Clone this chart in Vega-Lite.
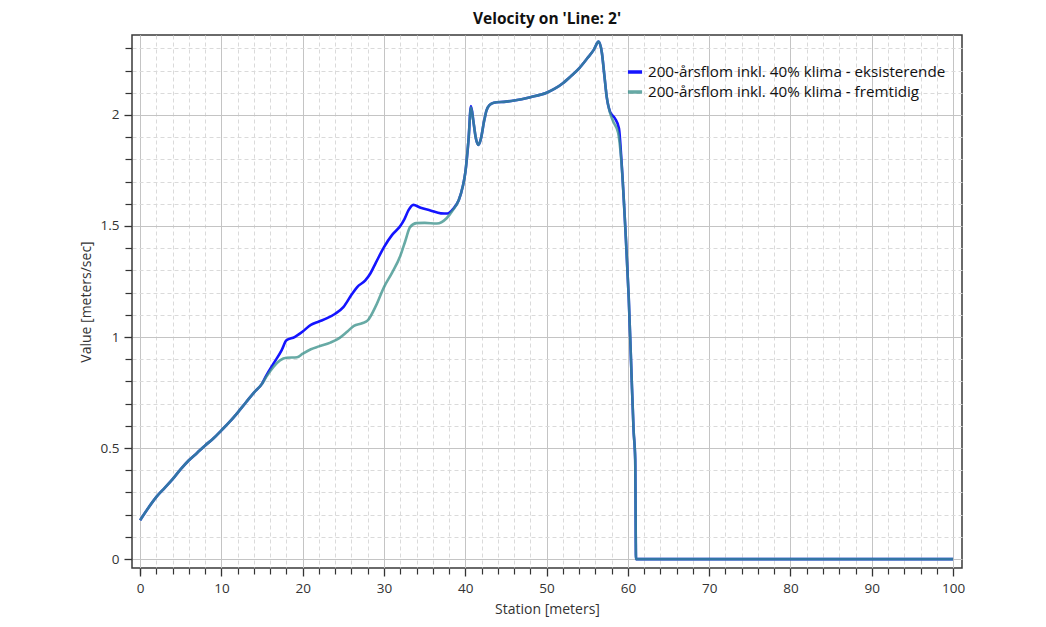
{
  "$schema": "https://vega.github.io/schema/vega-lite/v6.json",
  "width": 830,
  "height": 533,
  "autosize": {"type": "none"},
  "padding": {"left": 132, "top": 35, "right": 84, "bottom": 59},
  "background": "white",
  "title": {"text": "Velocity on 'Line: 2'", "font": "Open Sans", "fontSize": 15.5, "fontWeight": "bold", "color": "#111", "anchor": "middle", "offset": 8},
  "config": {
    "view": {"stroke": "#3a3a3a", "strokeWidth": 1.5},
    "axis": {"labelFont": "Open Sans", "titleFont": "Open Sans", "labelFontSize": 13.5, "titleFontSize": 14, "labelColor": "#333", "titleColor": "#333", "titleFontWeight": "normal", "tickColor": "#333", "domain": false}
  },
  "datasets": {
    "vel": [
      {"station": 0, "value": 0.175, "series": "200-årsflom inkl. 40% klima - eksisterende"},
      {"station": 1, "value": 0.23, "series": "200-årsflom inkl. 40% klima - eksisterende"},
      {"station": 2, "value": 0.28, "series": "200-årsflom inkl. 40% klima - eksisterende"},
      {"station": 3, "value": 0.32, "series": "200-årsflom inkl. 40% klima - eksisterende"},
      {"station": 4, "value": 0.36, "series": "200-årsflom inkl. 40% klima - eksisterende"},
      {"station": 5, "value": 0.405, "series": "200-årsflom inkl. 40% klima - eksisterende"},
      {"station": 6, "value": 0.445, "series": "200-årsflom inkl. 40% klima - eksisterende"},
      {"station": 7, "value": 0.478, "series": "200-årsflom inkl. 40% klima - eksisterende"},
      {"station": 8, "value": 0.512, "series": "200-årsflom inkl. 40% klima - eksisterende"},
      {"station": 9, "value": 0.543, "series": "200-årsflom inkl. 40% klima - eksisterende"},
      {"station": 10, "value": 0.58, "series": "200-årsflom inkl. 40% klima - eksisterende"},
      {"station": 11, "value": 0.618, "series": "200-årsflom inkl. 40% klima - eksisterende"},
      {"station": 12, "value": 0.66, "series": "200-årsflom inkl. 40% klima - eksisterende"},
      {"station": 13, "value": 0.705, "series": "200-årsflom inkl. 40% klima - eksisterende"},
      {"station": 14, "value": 0.75, "series": "200-årsflom inkl. 40% klima - eksisterende"},
      {"station": 15, "value": 0.79, "series": "200-årsflom inkl. 40% klima - eksisterende"},
      {"station": 15.5, "value": 0.825, "series": "200-årsflom inkl. 40% klima - eksisterende"},
      {"station": 16.4, "value": 0.88, "series": "200-årsflom inkl. 40% klima - eksisterende"},
      {"station": 17.4, "value": 0.94, "series": "200-årsflom inkl. 40% klima - eksisterende"},
      {"station": 18, "value": 0.985, "series": "200-årsflom inkl. 40% klima - eksisterende"},
      {"station": 19, "value": 1.0, "series": "200-årsflom inkl. 40% klima - eksisterende"},
      {"station": 20, "value": 1.025, "series": "200-årsflom inkl. 40% klima - eksisterende"},
      {"station": 21, "value": 1.055, "series": "200-årsflom inkl. 40% klima - eksisterende"},
      {"station": 22, "value": 1.07, "series": "200-årsflom inkl. 40% klima - eksisterende"},
      {"station": 23, "value": 1.085, "series": "200-årsflom inkl. 40% klima - eksisterende"},
      {"station": 24, "value": 1.105, "series": "200-årsflom inkl. 40% klima - eksisterende"},
      {"station": 25, "value": 1.135, "series": "200-årsflom inkl. 40% klima - eksisterende"},
      {"station": 26, "value": 1.19, "series": "200-årsflom inkl. 40% klima - eksisterende"},
      {"station": 26.7, "value": 1.225, "series": "200-årsflom inkl. 40% klima - eksisterende"},
      {"station": 27.7, "value": 1.255, "series": "200-årsflom inkl. 40% klima - eksisterende"},
      {"station": 28.3, "value": 1.285, "series": "200-årsflom inkl. 40% klima - eksisterende"},
      {"station": 29, "value": 1.335, "series": "200-årsflom inkl. 40% klima - eksisterende"},
      {"station": 30, "value": 1.405, "series": "200-årsflom inkl. 40% klima - eksisterende"},
      {"station": 31, "value": 1.46, "series": "200-årsflom inkl. 40% klima - eksisterende"},
      {"station": 32, "value": 1.5, "series": "200-årsflom inkl. 40% klima - eksisterende"},
      {"station": 32.5, "value": 1.53, "series": "200-årsflom inkl. 40% klima - eksisterende"},
      {"station": 33, "value": 1.57, "series": "200-årsflom inkl. 40% klima - eksisterende"},
      {"station": 33.6, "value": 1.595, "series": "200-årsflom inkl. 40% klima - eksisterende"},
      {"station": 34.5, "value": 1.582, "series": "200-årsflom inkl. 40% klima - eksisterende"},
      {"station": 35.7, "value": 1.57, "series": "200-årsflom inkl. 40% klima - eksisterende"},
      {"station": 37, "value": 1.557, "series": "200-årsflom inkl. 40% klima - eksisterende"},
      {"station": 37.8, "value": 1.556, "series": "200-årsflom inkl. 40% klima - eksisterende"},
      {"station": 38.5, "value": 1.577, "series": "200-årsflom inkl. 40% klima - eksisterende"},
      {"station": 39.2, "value": 1.617, "series": "200-årsflom inkl. 40% klima - eksisterende"},
      {"station": 39.7, "value": 1.68, "series": "200-årsflom inkl. 40% klima - eksisterende"},
      {"station": 40.0, "value": 1.74, "series": "200-årsflom inkl. 40% klima - eksisterende"},
      {"station": 40.4, "value": 1.89, "series": "200-årsflom inkl. 40% klima - eksisterende"},
      {"station": 40.7, "value": 2.04, "series": "200-årsflom inkl. 40% klima - eksisterende"},
      {"station": 41.0, "value": 1.97, "series": "200-årsflom inkl. 40% klima - eksisterende"},
      {"station": 41.3, "value": 1.895, "series": "200-årsflom inkl. 40% klima - eksisterende"},
      {"station": 41.6, "value": 1.865, "series": "200-årsflom inkl. 40% klima - eksisterende"},
      {"station": 41.9, "value": 1.89, "series": "200-årsflom inkl. 40% klima - eksisterende"},
      {"station": 42.3, "value": 1.97, "series": "200-årsflom inkl. 40% klima - eksisterende"},
      {"station": 42.6, "value": 2.02, "series": "200-årsflom inkl. 40% klima - eksisterende"},
      {"station": 43.0, "value": 2.045, "series": "200-årsflom inkl. 40% klima - eksisterende"},
      {"station": 43.5, "value": 2.055, "series": "200-årsflom inkl. 40% klima - eksisterende"},
      {"station": 45, "value": 2.06, "series": "200-årsflom inkl. 40% klima - eksisterende"},
      {"station": 46, "value": 2.065, "series": "200-årsflom inkl. 40% klima - eksisterende"},
      {"station": 48, "value": 2.08, "series": "200-årsflom inkl. 40% klima - eksisterende"},
      {"station": 50, "value": 2.1, "series": "200-årsflom inkl. 40% klima - eksisterende"},
      {"station": 51, "value": 2.118, "series": "200-årsflom inkl. 40% klima - eksisterende"},
      {"station": 52, "value": 2.143, "series": "200-årsflom inkl. 40% klima - eksisterende"},
      {"station": 53, "value": 2.175, "series": "200-årsflom inkl. 40% klima - eksisterende"},
      {"station": 54, "value": 2.21, "series": "200-årsflom inkl. 40% klima - eksisterende"},
      {"station": 55, "value": 2.255, "series": "200-årsflom inkl. 40% klima - eksisterende"},
      {"station": 55.8, "value": 2.293, "series": "200-årsflom inkl. 40% klima - eksisterende"},
      {"station": 56.4, "value": 2.33, "series": "200-årsflom inkl. 40% klima - eksisterende"},
      {"station": 56.8, "value": 2.28, "series": "200-årsflom inkl. 40% klima - eksisterende"},
      {"station": 57.1, "value": 2.18, "series": "200-årsflom inkl. 40% klima - eksisterende"},
      {"station": 57.4, "value": 2.08, "series": "200-årsflom inkl. 40% klima - eksisterende"},
      {"station": 57.8, "value": 2.015, "series": "200-årsflom inkl. 40% klima - eksisterende"},
      {"station": 58.4, "value": 1.985, "series": "200-årsflom inkl. 40% klima - eksisterende"},
      {"station": 58.9, "value": 1.94, "series": "200-årsflom inkl. 40% klima - eksisterende"},
      {"station": 59.2, "value": 1.8, "series": "200-årsflom inkl. 40% klima - eksisterende"},
      {"station": 59.7, "value": 1.48, "series": "200-årsflom inkl. 40% klima - eksisterende"},
      {"station": 60.1, "value": 1.18, "series": "200-årsflom inkl. 40% klima - eksisterende"},
      {"station": 60.4, "value": 0.88, "series": "200-årsflom inkl. 40% klima - eksisterende"},
      {"station": 60.7, "value": 0.58, "series": "200-årsflom inkl. 40% klima - eksisterende"},
      {"station": 60.9, "value": 0.45, "series": "200-årsflom inkl. 40% klima - eksisterende"},
      {"station": 61.0, "value": 0.0, "series": "200-årsflom inkl. 40% klima - eksisterende"},
      {"station": 70, "value": 0.0, "series": "200-årsflom inkl. 40% klima - eksisterende"},
      {"station": 85, "value": 0.0, "series": "200-årsflom inkl. 40% klima - eksisterende"},
      {"station": 100, "value": 0.0, "series": "200-årsflom inkl. 40% klima - eksisterende"},

      {"station": 0, "value": 0.175, "series": "200-årsflom inkl. 40% klima - fremtidig"},
      {"station": 1, "value": 0.23, "series": "200-årsflom inkl. 40% klima - fremtidig"},
      {"station": 2, "value": 0.28, "series": "200-årsflom inkl. 40% klima - fremtidig"},
      {"station": 3, "value": 0.32, "series": "200-årsflom inkl. 40% klima - fremtidig"},
      {"station": 4, "value": 0.36, "series": "200-årsflom inkl. 40% klima - fremtidig"},
      {"station": 5, "value": 0.405, "series": "200-årsflom inkl. 40% klima - fremtidig"},
      {"station": 6, "value": 0.445, "series": "200-årsflom inkl. 40% klima - fremtidig"},
      {"station": 7, "value": 0.478, "series": "200-årsflom inkl. 40% klima - fremtidig"},
      {"station": 8, "value": 0.512, "series": "200-årsflom inkl. 40% klima - fremtidig"},
      {"station": 9, "value": 0.543, "series": "200-årsflom inkl. 40% klima - fremtidig"},
      {"station": 10, "value": 0.58, "series": "200-årsflom inkl. 40% klima - fremtidig"},
      {"station": 11, "value": 0.618, "series": "200-årsflom inkl. 40% klima - fremtidig"},
      {"station": 12, "value": 0.66, "series": "200-årsflom inkl. 40% klima - fremtidig"},
      {"station": 13, "value": 0.705, "series": "200-årsflom inkl. 40% klima - fremtidig"},
      {"station": 14, "value": 0.75, "series": "200-årsflom inkl. 40% klima - fremtidig"},
      {"station": 15, "value": 0.79, "series": "200-årsflom inkl. 40% klima - fremtidig"},
      {"station": 15.5, "value": 0.82, "series": "200-årsflom inkl. 40% klima - fremtidig"},
      {"station": 16.4, "value": 0.866, "series": "200-årsflom inkl. 40% klima - fremtidig"},
      {"station": 17.2, "value": 0.895, "series": "200-årsflom inkl. 40% klima - fremtidig"},
      {"station": 18, "value": 0.907, "series": "200-årsflom inkl. 40% klima - fremtidig"},
      {"station": 19.3, "value": 0.909, "series": "200-årsflom inkl. 40% klima - fremtidig"},
      {"station": 20, "value": 0.925, "series": "200-årsflom inkl. 40% klima - fremtidig"},
      {"station": 21, "value": 0.945, "series": "200-årsflom inkl. 40% klima - fremtidig"},
      {"station": 22, "value": 0.958, "series": "200-årsflom inkl. 40% klima - fremtidig"},
      {"station": 23.4, "value": 0.975, "series": "200-årsflom inkl. 40% klima - fremtidig"},
      {"station": 24.5, "value": 0.995, "series": "200-årsflom inkl. 40% klima - fremtidig"},
      {"station": 25.5, "value": 1.025, "series": "200-årsflom inkl. 40% klima - fremtidig"},
      {"station": 26.3, "value": 1.05, "series": "200-årsflom inkl. 40% klima - fremtidig"},
      {"station": 27.3, "value": 1.062, "series": "200-årsflom inkl. 40% klima - fremtidig"},
      {"station": 28, "value": 1.075, "series": "200-årsflom inkl. 40% klima - fremtidig"},
      {"station": 29, "value": 1.14, "series": "200-årsflom inkl. 40% klima - fremtidig"},
      {"station": 30, "value": 1.225, "series": "200-årsflom inkl. 40% klima - fremtidig"},
      {"station": 31, "value": 1.29, "series": "200-årsflom inkl. 40% klima - fremtidig"},
      {"station": 32, "value": 1.365, "series": "200-årsflom inkl. 40% klima - fremtidig"},
      {"station": 32.6, "value": 1.43, "series": "200-årsflom inkl. 40% klima - fremtidig"},
      {"station": 33.2, "value": 1.495, "series": "200-årsflom inkl. 40% klima - fremtidig"},
      {"station": 34, "value": 1.513, "series": "200-årsflom inkl. 40% klima - fremtidig"},
      {"station": 35, "value": 1.514, "series": "200-årsflom inkl. 40% klima - fremtidig"},
      {"station": 36.5, "value": 1.511, "series": "200-årsflom inkl. 40% klima - fremtidig"},
      {"station": 37.7, "value": 1.535, "series": "200-årsflom inkl. 40% klima - fremtidig"},
      {"station": 38.5, "value": 1.573, "series": "200-årsflom inkl. 40% klima - fremtidig"},
      {"station": 39.2, "value": 1.617, "series": "200-årsflom inkl. 40% klima - fremtidig"},
      {"station": 39.7, "value": 1.68, "series": "200-årsflom inkl. 40% klima - fremtidig"},
      {"station": 40.0, "value": 1.74, "series": "200-årsflom inkl. 40% klima - fremtidig"},
      {"station": 40.4, "value": 1.89, "series": "200-årsflom inkl. 40% klima - fremtidig"},
      {"station": 40.7, "value": 2.035, "series": "200-årsflom inkl. 40% klima - fremtidig"},
      {"station": 41.0, "value": 1.97, "series": "200-årsflom inkl. 40% klima - fremtidig"},
      {"station": 41.3, "value": 1.895, "series": "200-årsflom inkl. 40% klima - fremtidig"},
      {"station": 41.6, "value": 1.865, "series": "200-årsflom inkl. 40% klima - fremtidig"},
      {"station": 41.9, "value": 1.89, "series": "200-årsflom inkl. 40% klima - fremtidig"},
      {"station": 42.3, "value": 1.97, "series": "200-årsflom inkl. 40% klima - fremtidig"},
      {"station": 42.6, "value": 2.02, "series": "200-årsflom inkl. 40% klima - fremtidig"},
      {"station": 43.0, "value": 2.045, "series": "200-årsflom inkl. 40% klima - fremtidig"},
      {"station": 43.5, "value": 2.055, "series": "200-årsflom inkl. 40% klima - fremtidig"},
      {"station": 45, "value": 2.06, "series": "200-årsflom inkl. 40% klima - fremtidig"},
      {"station": 46, "value": 2.065, "series": "200-årsflom inkl. 40% klima - fremtidig"},
      {"station": 48, "value": 2.08, "series": "200-årsflom inkl. 40% klima - fremtidig"},
      {"station": 50, "value": 2.1, "series": "200-årsflom inkl. 40% klima - fremtidig"},
      {"station": 51, "value": 2.118, "series": "200-årsflom inkl. 40% klima - fremtidig"},
      {"station": 52, "value": 2.143, "series": "200-årsflom inkl. 40% klima - fremtidig"},
      {"station": 53, "value": 2.175, "series": "200-årsflom inkl. 40% klima - fremtidig"},
      {"station": 54, "value": 2.21, "series": "200-årsflom inkl. 40% klima - fremtidig"},
      {"station": 55, "value": 2.255, "series": "200-årsflom inkl. 40% klima - fremtidig"},
      {"station": 55.8, "value": 2.293, "series": "200-årsflom inkl. 40% klima - fremtidig"},
      {"station": 56.4, "value": 2.33, "series": "200-årsflom inkl. 40% klima - fremtidig"},
      {"station": 56.8, "value": 2.28, "series": "200-årsflom inkl. 40% klima - fremtidig"},
      {"station": 57.1, "value": 2.18, "series": "200-årsflom inkl. 40% klima - fremtidig"},
      {"station": 57.4, "value": 2.08, "series": "200-årsflom inkl. 40% klima - fremtidig"},
      {"station": 57.8, "value": 2.01, "series": "200-årsflom inkl. 40% klima - fremtidig"},
      {"station": 58.2, "value": 1.97, "series": "200-årsflom inkl. 40% klima - fremtidig"},
      {"station": 58.8, "value": 1.92, "series": "200-årsflom inkl. 40% klima - fremtidig"},
      {"station": 59.2, "value": 1.79, "series": "200-årsflom inkl. 40% klima - fremtidig"},
      {"station": 59.7, "value": 1.48, "series": "200-årsflom inkl. 40% klima - fremtidig"},
      {"station": 60.1, "value": 1.18, "series": "200-årsflom inkl. 40% klima - fremtidig"},
      {"station": 60.4, "value": 0.88, "series": "200-årsflom inkl. 40% klima - fremtidig"},
      {"station": 60.7, "value": 0.58, "series": "200-årsflom inkl. 40% klima - fremtidig"},
      {"station": 60.9, "value": 0.45, "series": "200-årsflom inkl. 40% klima - fremtidig"},
      {"station": 61.0, "value": 0.0, "series": "200-årsflom inkl. 40% klima - fremtidig"},
      {"station": 70, "value": 0.0, "series": "200-årsflom inkl. 40% klima - fremtidig"},
      {"station": 85, "value": 0.0, "series": "200-årsflom inkl. 40% klima - fremtidig"},
      {"station": 100, "value": 0.0, "series": "200-årsflom inkl. 40% klima - fremtidig"}
    ]
  },
  "data": {"name": "vel"},
  "layer": [
    {
      "mark": {"type": "line", "opacity": 0},
      "encoding": {
        "x": {"field": "station", "type": "quantitative", "scale": {"domain": [-1, 101.1], "nice": false, "zero": false},
          "axis": {"orient": "bottom", "values": [0,2,4,6,8,12,14,16,18,22,24,26,28,32,34,36,38,42,44,46,48,52,54,56,58,62,64,66,68,72,74,76,78,82,84,86,88,92,94,96,98], "labels": false, "title": null, "tickSize": 6, "tickWidth": 1.2, "grid": true, "gridColor": "#dadada", "gridDash": [4, 3], "gridWidth": 1}},
        "y": {"field": "value", "type": "quantitative", "scale": {"domain": [-0.04, 2.36], "nice": false, "zero": false},
          "axis": {"orient": "left", "values": [0.1,0.2,0.3,0.4,0.6,0.7,0.8,0.9,1.1,1.2,1.3,1.4,1.6,1.7,1.8,1.9,2.1,2.2,2.3], "labels": false, "title": null, "tickSize": 7, "tickWidth": 1.2, "grid": true, "gridColor": "#dadada", "gridDash": [4, 3], "gridWidth": 1}}
      }
    },
    {
      "mark": {"type": "line", "strokeWidth": 2.6, "interpolate": "monotone"},
      "encoding": {
        "x": {"field": "station", "type": "quantitative", "scale": {"domain": [-1, 101.1], "nice": false, "zero": false},
          "axis": {"orient": "bottom", "values": [0,10,20,30,40,50,60,70,80,90,100], "format": "d", "title": "Station [meters]", "tickSize": 8, "tickWidth": 1.3, "labelPadding": 5, "titlePadding": 8, "grid": true, "gridColor": "#c4c4c4", "gridWidth": 1}},
        "y": {"field": "value", "type": "quantitative", "scale": {"domain": [-0.04, 2.36], "nice": false, "zero": false},
          "axis": {"orient": "left", "values": [0, 0.5, 1, 1.5, 2], "format": "~g", "title": "Value [meters/sec]", "tickSize": 8, "tickWidth": 1.3, "labelPadding": 5, "titlePadding": 7, "grid": true, "gridColor": "#c4c4c4", "gridWidth": 1}},
        "color": {"field": "series", "type": "nominal", "scale": {"range": ["#1414ff", "#3c928c"]},
          "legend": {"title": null, "orient": "none", "legendX": 494, "legendY": 28, "symbolType": "stroke", "symbolStrokeWidth": 3.5, "symbolSize": 200, "labelFont": "Open Sans", "labelFontSize": 15.2, "labelColor": "#111", "labelLimit": 400, "rowPadding": 2, "symbolOpacity": 1}},
        "opacity": {"field": "series", "type": "nominal", "scale": {"range": [1, 0.78]}, "legend": null}
      }
    }
  ],
  "resolve": {"axis": {"x": "independent", "y": "independent"}}
}
